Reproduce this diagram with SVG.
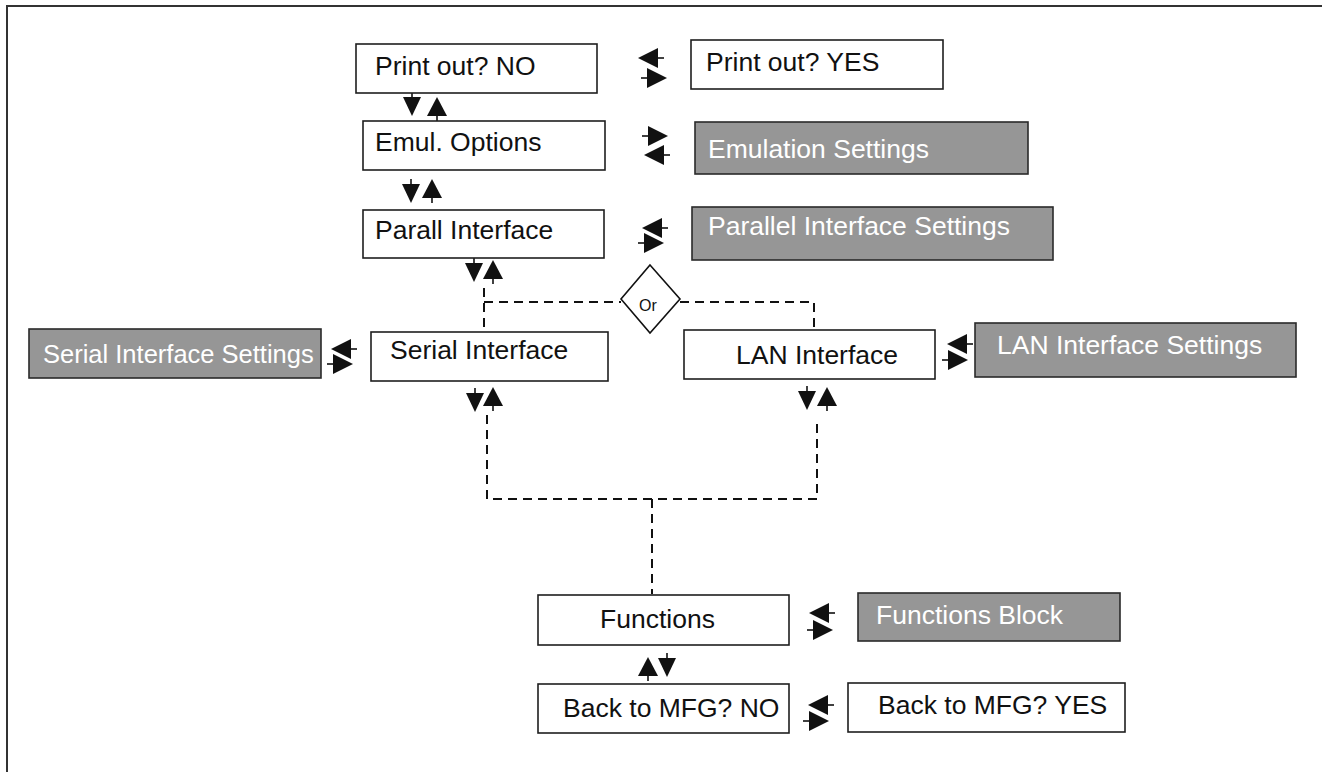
<svg xmlns="http://www.w3.org/2000/svg" xmlns:xlink="http://www.w3.org/1999/xlink" width="1322" height="772" viewBox="0 0 1322 772">
<style>
.box{fill:#ffffff;stroke:#1e1e1e;stroke-width:1.6}
.gbox{fill:#969696;stroke:#2a2a2a;stroke-width:1.6}
.t{font-family:"Liberation Sans",Arial,sans-serif;font-size:26.5px;fill:#111}
.tw{font-family:"Liberation Sans",Arial,sans-serif;font-size:26.5px;fill:#ffffff}
.dash{fill:none;stroke:#111;stroke-width:2;stroke-dasharray:9 6}
.ah{fill:#111;stroke:none}
.st{stroke:#111;stroke-width:1.6;fill:none}
</style>
<defs>
<g id="dn"><path class="ah" d="M-9,0 L9,0 L0,19 Z"/><path class="st" d="M0,-5 V0"/></g>
<g id="up"><path class="ah" d="M-10,0 L10,0 L0,-19 Z"/><path class="st" d="M0,0 V5"/></g>
<g id="lf"><path class="ah" d="M0,0 L20,-10 L20,10 Z"/><path class="st" d="M20,0 H26"/></g>
<g id="rt"><path class="ah" d="M0,0 L-20,-10 L-20,10 Z"/><path class="st" d="M-20,0 H-26"/></g>
</defs>
<rect width="1322" height="772" fill="#ffffff"/>
<path d="M7,772 V6 H1322" fill="none" stroke="#333" stroke-width="2"/>

<g id="connectors">
<path class="dash" d="M484,288 V331"/>
<path class="dash" d="M484,302 H621"/>
<path class="dash" d="M680,302 H814 V328"/>
<path class="dash" d="M487,415 V499 H817 V418"/>
<path class="dash" d="M652,499 V594"/>
<use xlink:href="#dn" href="#dn" x="412" y="97"/>
<use xlink:href="#up" href="#up" x="437" y="116"/>
<use xlink:href="#dn" href="#dn" x="411" y="184"/>
<use xlink:href="#up" href="#up" x="432" y="198"/>
<use xlink:href="#dn" href="#dn" x="474" y="263"/>
<use xlink:href="#up" href="#up" x="493" y="279"/>
<use xlink:href="#dn" href="#dn" x="475" y="393"/>
<use xlink:href="#up" href="#up" x="493" y="406"/>
<use xlink:href="#dn" href="#dn" x="807" y="391"/>
<use xlink:href="#up" href="#up" x="827" y="406"/>
<use xlink:href="#up" href="#up" x="648" y="676"/>
<use xlink:href="#dn" href="#dn" x="667" y="658"/>
<use xlink:href="#lf" href="#lf" x="638" y="58"/>
<use xlink:href="#rt" href="#rt" x="667" y="78"/>
<use xlink:href="#rt" href="#rt" x="668" y="136"/>
<use xlink:href="#lf" href="#lf" x="644" y="155"/>
<use xlink:href="#lf" href="#lf" x="642" y="228"/>
<use xlink:href="#rt" href="#rt" x="664" y="243"/>
<use xlink:href="#lf" href="#lf" x="331" y="349"/>
<use xlink:href="#rt" href="#rt" x="353" y="364"/>
<use xlink:href="#lf" href="#lf" x="947" y="344"/>
<use xlink:href="#rt" href="#rt" x="968" y="360"/>
<use xlink:href="#lf" href="#lf" x="809" y="613"/>
<use xlink:href="#rt" href="#rt" x="833" y="630"/>
<use xlink:href="#lf" href="#lf" x="808" y="705"/>
<use xlink:href="#rt" href="#rt" x="829" y="721"/>
</g>

<g id="print-no"><rect class="box" x="356" y="44" width="241" height="49"/><text class="t" x="375" y="75">Print out? NO</text></g>
<g id="print-yes"><rect class="box" x="691" y="40" width="252" height="49"/><text class="t" x="706" y="71">Print out? YES</text></g>
<g id="emul-options"><rect class="box" x="363" y="121" width="242" height="49"/><text class="t" x="375" y="151">Emul. Options</text></g>
<g id="emul-settings"><rect class="gbox" x="695" y="122" width="333" height="52"/><text class="tw" x="708" y="158">Emulation Settings</text></g>
<g id="parall-interface"><rect class="box" x="363" y="210" width="241" height="48"/><text class="t" x="375" y="239">Parall Interface</text></g>
<g id="parallel-settings"><rect class="gbox" x="692" y="207" width="361" height="53"/><text class="tw" x="708" y="235">Parallel Interface Settings</text></g>
<g id="or"><path d="M650,265 L680,299 L650,333 L621,299 Z" fill="#fff" stroke="#111" stroke-width="1.6"/><text x="639" y="311" style="font-family:'Liberation Sans',Arial,sans-serif;font-size:16px;fill:#111">Or</text></g>
<g id="serial-settings"><rect class="gbox" x="29" y="329" width="292" height="49"/><text class="tw" x="43" y="363" style="font-size:25.5px">Serial Interface Settings</text></g>
<g id="serial-interface"><rect class="box" x="371" y="332" width="237" height="49"/><text class="t" x="390" y="359">Serial Interface</text></g>
<g id="lan-interface"><rect class="box" x="684" y="330" width="251" height="49"/><text class="t" x="736" y="364">LAN Interface</text></g>
<g id="lan-settings"><rect class="gbox" x="975" y="323" width="321" height="54"/><text class="tw" x="997" y="354">LAN Interface Settings</text></g>
<g id="functions"><rect class="box" x="538" y="595" width="251" height="50"/><text class="t" x="600" y="628">Functions</text></g>
<g id="functions-block"><rect class="gbox" x="858" y="593" width="262" height="48"/><text class="tw" x="876" y="624">Functions Block</text></g>
<g id="back-no"><rect class="box" x="538" y="684" width="251" height="49"/><text class="t" x="563" y="717">Back to MFG? NO</text></g>
<g id="back-yes"><rect class="box" x="848" y="683" width="277" height="49"/><text class="t" x="878" y="714">Back to MFG? YES</text></g>
</svg>
